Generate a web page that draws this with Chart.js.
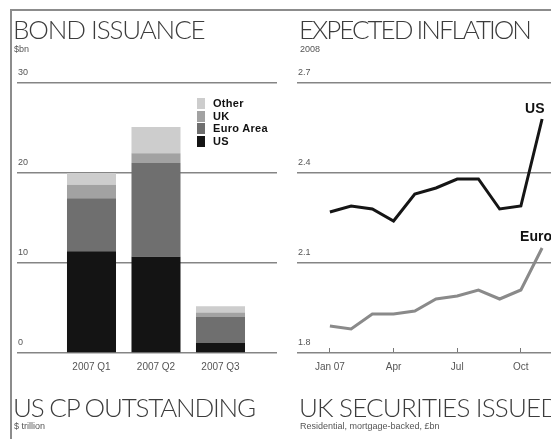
<!DOCTYPE html>
<html><head><meta charset="utf-8">
<script src="https://cdn.jsdelivr.net/npm/chart.js@4.4.1/dist/chart.umd.min.js"></script>
<style>
html,body{margin:0;padding:0;width:551px;height:439px;overflow:hidden;background:#fff;font-family:'Liberation Sans',Arial,sans-serif;}
#wrap{position:relative;width:551px;height:439px;overflow:hidden;}
.frameTop{position:absolute;left:10px;top:9px;width:541px;height:2px;background:#8c8c8c;}
.frameLeft{position:absolute;left:10px;top:9px;width:2px;height:430px;background:#8c8c8c;}
.title{position:absolute;font-family:Lato,'Liberation Sans',sans-serif;font-weight:300;font-size:26px;color:#3c3c3c;white-space:nowrap;line-height:27px;}
.sub{position:absolute;font-size:9px;color:#555;white-space:nowrap;line-height:9px;}
canvas{position:absolute;top:0;}
#legend{position:absolute;left:197px;top:97px;}
.li{position:relative;height:12.7px;}
.sw{position:absolute;left:0;top:1px;width:8px;height:11px;}
.lt{position:absolute;left:16px;top:0;font-weight:bold;font-size:11px;letter-spacing:0.3px;line-height:12px;color:#111;white-space:nowrap;}
</style></head>
<body><div id="wrap">
<canvas id="bond" width="290" height="400" style="left:0px"></canvas>
<canvas id="infl" width="340" height="400" style="left:280px"></canvas>
<div class="frameTop"></div><div class="frameLeft"></div>
<div class="title" style="left:13px;top:16px;letter-spacing:-1.1px">BOND ISSUANCE</div>
<div class="sub" style="left:14px;top:45px">$bn</div>
<div class="title" style="left:299px;top:16px;letter-spacing:-2px">EXPECTED INFLATION</div>
<div class="sub" style="left:300px;top:45px">2008</div>
<div class="title" style="left:13px;top:394px;letter-spacing:-1.2px">US CP OUTSTANDING</div>
<div class="sub" style="left:14px;top:422px">$ trillion</div>
<div class="title" style="left:299px;top:394px;letter-spacing:-0.8px">UK SECURITIES ISSUED</div>
<div class="sub" style="left:300px;top:422px">Residential, mortgage-backed, £bn</div>
<div id="legend"></div>
</div>
<script>
// ---- Bond issuance data ($bn) ----
const quarters = ['2007 Q1', '2007 Q2', '2007 Q3'];
const usBonds = [11.3, 10.7, 1.1];
const euroAreaBonds = [5.9, 10.4, 2.9];
const ukBonds = [1.5, 1.1, 0.5];
const otherBonds = [1.3, 2.9, 0.7];
const bondTicks = [0, 10, 20, 30];

// ---- Expected inflation data (%) ----
const months = ['Jan 07','Feb','Mar','Apr','May','Jun','Jul','Aug','Sep','Oct','Nov'];
const usInflation = [2.27, 2.29, 2.28, 2.24, 2.33, 2.35, 2.38, 2.38, 2.28, 2.29, 2.58];
const euroInflation = [1.89, 1.88, 1.93, 1.93, 1.94, 1.98, 1.99, 2.01, 1.98, 2.01, 2.15];
const inflTickMonths = ['Jan 07', 'Apr', 'Jul', 'Oct'];
const inflTicks = [1.8, 2.1, 2.4, 2.7];

const tickFont = {family: "'Liberation Sans', Arial, sans-serif", size: 9};
const xTickFont = {family: "'Liberation Sans', Arial, sans-serif", size: 10};
const gridColor = '#858585';

const bondSeries = [
  {label: 'US', data: usBonds, color: '#141414'},
  {label: 'Euro Area', data: euroAreaBonds, color: '#6f6f6f'},
  {label: 'UK', data: ukBonds, color: '#a2a2a2'},
  {label: 'Other', data: otherBonds, color: '#cdcdcd'}
];

// HTML legend (top to bottom: Other, UK, Euro Area, US)
const legendEl = document.getElementById('legend');
bondSeries.slice().reverse().forEach(s => {
  const row = document.createElement('div'); row.className = 'li';
  const sw = document.createElement('div'); sw.className = 'sw'; sw.style.background = s.color;
  const t = document.createElement('div'); t.className = 'lt'; t.textContent = s.label;
  row.appendChild(sw); row.appendChild(t); legendEl.appendChild(row);
});

new Chart(document.getElementById('bond'), {
  type: 'bar',
  data: {
    datasets: bondSeries.map(s => ({
      label: s.label,
      data: s.data.map((v, i) => ({x: i, y: v})),
      backgroundColor: s.color,
      borderWidth: 0,
      categoryPercentage: 0.8,
      barPercentage: 0.95
    }))
  },
  options: {
    responsive: false, animation: false, devicePixelRatio: 1,
    layout: {padding: {left: 17, top: 83, right: 13, bottom: 22}},
    plugins: {legend: {display: false}, tooltip: {enabled: false}},
    scales: {
      x: {
        type: 'linear', stacked: true, offset: false, min: -1.155, max: 2.876,
        afterBuildTicks: s => { s.ticks = quarters.map((q, i) => ({value: i})); },
        afterFit: s => { s.height = 25; },
        grid: {display: false, drawTicks: false},
        border: {display: false},
        ticks: {autoSkip: false, maxRotation: 0, padding: 8, font: xTickFont, color: '#555',
                callback: (v, i) => quarters[i]}
      },
      y: {
        stacked: true, min: 0, max: 30,
        afterBuildTicks: s => { s.ticks = bondTicks.map(v => ({value: v})); },
        afterFit: s => { s.width = 0; },
        grid: {color: gridColor, lineWidth: 1.5, drawTicks: false},
        border: {display: false},
        ticks: {mirror: true, padding: 1, labelOffset: -10, font: tickFont, color: '#555'}
      }
    }
  }
});

const endLabels = {
  id: 'endLabels',
  afterDatasetsDraw(chart, args, opts) {
    const ctx = chart.ctx;
    chart.data.datasets.forEach((ds, di) => {
      const meta = chart.getDatasetMeta(di);
      const pt = meta.data[meta.data.length - 1];
      const off = opts.offsets[di];
      ctx.save();
      ctx.font = "bold 14px 'Liberation Sans', Arial, sans-serif";
      ctx.fillStyle = '#111';
      ctx.textAlign = 'left';
      ctx.textBaseline = 'alphabetic';
      ctx.fillText(ds.label, pt.x + off[0], pt.y + off[1]);
      ctx.restore();
    });
  }
};

new Chart(document.getElementById('infl'), {
  type: 'line',
  data: {
    datasets: [
      {label: 'US', data: usInflation.map((v, i) => ({x: i, y: v})), borderColor: '#151515', borderWidth: 3, pointRadius: 0, tension: 0},
      {label: 'Euro', data: euroInflation.map((v, i) => ({x: i, y: v})), borderColor: '#8a8a8a', borderWidth: 3, pointRadius: 0, tension: 0}
    ]
  },
  options: {
    responsive: false, animation: false, devicePixelRatio: 1,
    layout: {padding: {left: 17, top: 83, right: 10, bottom: 22}},
    plugins: {legend: {display: false}, tooltip: {enabled: false},
              endLabels: {offsets: [[-17, -6], [-22, -7]]}},
    scales: {
      x: {
        type: 'linear', offset: false, min: -1.55, max: 13.2,
        afterBuildTicks: s => { s.ticks = inflTickMonths.map(m => ({value: months.indexOf(m)})); },
        afterFit: s => { s.height = 25; },
        grid: {drawOnChartArea: false, drawTicks: true, tickLength: -5, color: '#777', lineWidth: 1},
        border: {display: false},
        ticks: {autoSkip: false, maxRotation: 0, padding: 13, font: xTickFont, color: '#555',
                callback: (v, i) => inflTickMonths[i]}
      },
      y: {
        min: 1.8, max: 2.7,
        afterBuildTicks: s => { s.ticks = inflTicks.map(v => ({value: v})); },
        afterFit: s => { s.width = 0; },
        grid: {color: gridColor, lineWidth: 1.5, drawTicks: false},
        border: {display: false},
        ticks: {mirror: true, padding: 1, labelOffset: -10, font: tickFont, color: '#555',
                callback: v => v.toFixed(1)}
      }
    }
  },
  plugins: [endLabels]
});
</script>
</body></html>
